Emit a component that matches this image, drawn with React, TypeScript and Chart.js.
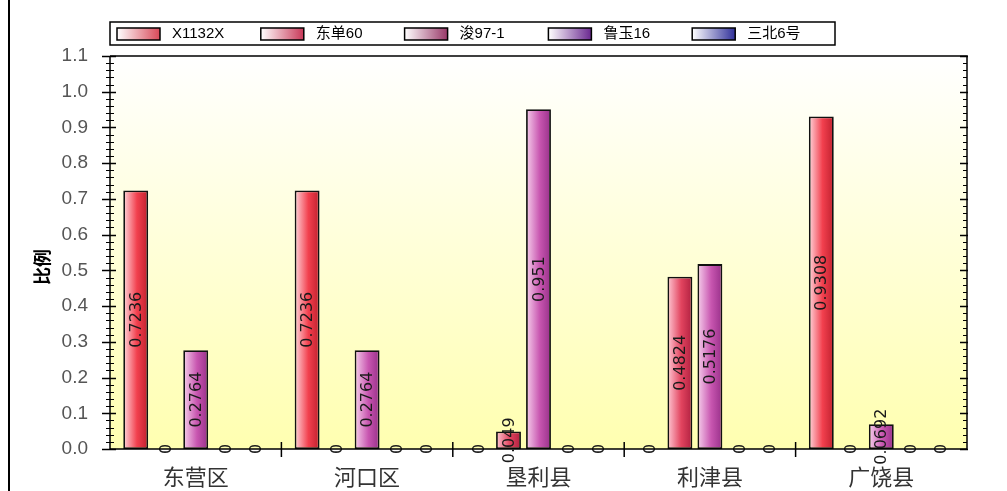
import { useEffect, useRef } from 'react';
import { Chart, registerables } from 'chart.js';

Chart.register(...registerables);

// ---- data ----
const categories = ['东营区', '河口区', '垦利县', '利津县', '广饶县'];
const seriesNames = ['X1132X', '东单60', '浚97-1', '鲁玉16', '三北6号'];
const x1132x = [0.7236, 0.7236, 0, 0, 0.9308];
const dongdan60 = [0, 0, 0.049, 0.4824, 0];
const jun971 = [0.2764, 0.2764, 0.951, 0.5176, 0.0692];
const luyu16 = [0, 0, 0, 0, 0];
const sanbei6 = [0, 0, 0, 0, 0];
const yMin = 0;
const yMax = 1.1;
const yStep = 0.1;
const yMinorStep = 0.02;
const yTitle = '比例';

const seriesValues = [x1132x, dongdan60, jun971, luyu16, sanbei6];

// ---- styles ----
const barColors = [
  ['#ffd6dc', '#f2404e', '#c0202e'],
  ['#ffc8d4', '#e2445f', '#b02040'],
  ['#f6d0ec', '#c856b0', '#98308a'],
  ['#e6d0f2', '#8a44b0', '#602080'],
  ['#d8d8f6', '#4848b8', '#28288a'],
];
const legendColors = ['#d84858', '#c83858', '#983868', '#6a2890', '#30309a'];

const FRAME = { left: 110, right: 967, top: 56, bottom: 449 };

const decorPlugin = {
  id: 'decor',
  beforeDraw(chart: any) {
    const { ctx, chartArea } = chart;
    ctx.save();
    const g = ctx.createLinearGradient(0, chartArea.top, 0, chartArea.bottom);
    g.addColorStop(0, '#ffffff');
    g.addColorStop(1, '#ffffb0');
    ctx.fillStyle = g;
    ctx.fillRect(chartArea.left, chartArea.top, chartArea.right - chartArea.left, chartArea.bottom - chartArea.top);
    ctx.restore();
  },
  beforeDatasetsDraw(chart: any) {
    const { ctx } = chart;
    chart.data.datasets.forEach((ds: any, di: number) => {
      const meta = chart.getDatasetMeta(di);
      meta.data.forEach((el: any) => {
        const { x, width } = el.getProps(['x', 'width'], true);
        const g = ctx.createLinearGradient(x - width / 2, 0, x + width / 2, 0);
        const c = barColors[di];
        g.addColorStop(0, c[0]);
        g.addColorStop(0.55, c[1]);
        g.addColorStop(1, c[2]);
        el.options.backgroundColor = g;
      });
    });
  },
  afterDatasetsDraw(chart: any) {
    const { ctx } = chart;
    ctx.save();
    ctx.font = '16px "DejaVu Sans"';
    ctx.fillStyle = '#1a1a1a';
    ctx.textAlign = 'center';
    ctx.textBaseline = 'middle';
    chart.data.datasets.forEach((ds: any, di: number) => {
      const meta = chart.getDatasetMeta(di);
      meta.data.forEach((el: any, i: number) => {
        const { x, y, base } = el.getProps(['x', 'y', 'base'], true);
        const cy = (y + base) / 2;
        ctx.save();
        ctx.translate(x, cy);
        ctx.rotate(-Math.PI / 2);
        ctx.fillText(String(ds.data[i]), 0, 1);
        ctx.restore();
      });
    });
    ctx.restore();
  },
  afterDraw(chart: any) {
    const { ctx, chartArea } = chart;
    const ys = chart.scales.y;
    const xs = chart.scales.x;
    const { left, right, top, bottom } = chartArea;
    ctx.save();
    ctx.strokeStyle = '#000';
    // frame
    ctx.lineWidth = 1.5;
    ctx.beginPath();
    ctx.moveTo(left, top);
    ctx.lineTo(right, top);
    ctx.lineTo(right, bottom);
    ctx.moveTo(left, top);
    ctx.lineTo(left, bottom);
    ctx.lineTo(right, bottom);
    ctx.stroke();
    // y ticks
    const n = Math.round((yMax - yMin) / yMinorStep);
    for (let k = 0; k <= n; k++) {
      const v = yMin + k * yMinorStep;
      const py = Math.round(ys.getPixelForValue(v)) + 0.5;
      const major = k % Math.round(yStep / yMinorStep) === 0;
      ctx.lineWidth = major ? 1.5 : 1;
      ctx.beginPath();
      if (major) {
        ctx.moveTo(left - 8, py);
        ctx.lineTo(left + 6, py);
        ctx.moveTo(right - 7, py);
        ctx.lineTo(right + 1, py);
      } else {
        ctx.moveTo(left - 4, py);
        ctx.lineTo(left + 4, py);
        ctx.moveTo(right - 4, py);
        ctx.lineTo(right, py);
      }
      ctx.stroke();
    }
    // x separators
    ctx.lineWidth = 1.5;
    for (let i = 1; i < categories.length; i++) {
      const px = (xs.getPixelForValue(i - 1) + xs.getPixelForValue(i)) / 2;
      ctx.beginPath();
      ctx.moveTo(px, bottom - 7);
      ctx.lineTo(px, bottom + 8);
      ctx.stroke();
    }
    // left page line
    ctx.lineWidth = 2;
    ctx.beginPath();
    ctx.moveTo(9, 0);
    ctx.lineTo(9, 491);
    ctx.stroke();
    // y title
    ctx.save();
    ctx.translate(42, 267);
    ctx.rotate(-Math.PI / 2);
    ctx.font = 'bold 18px "Noto Sans CJK SC"';
    ctx.fillStyle = '#000';
    ctx.textAlign = 'center';
    ctx.textBaseline = 'middle';
    ctx.fillText(yTitle, 0, 0);
    ctx.restore();
    // legend
    const lx = 110, ly = 22, lw = 725, lh = 23;
    ctx.fillStyle = '#fff';
    ctx.fillRect(lx, ly, lw, lh);
    ctx.lineWidth = 1.5;
    ctx.strokeRect(lx, ly, lw, lh);
    seriesNames.forEach((name, i) => {
      const sx = 117 + i * 143.8;
      const sy = 28;
      const g = ctx.createLinearGradient(sx, 0, sx + 43, 0);
      g.addColorStop(0, '#ffffff');
      g.addColorStop(1, legendColors[i]);
      ctx.fillStyle = g;
      ctx.fillRect(sx, sy, 43, 12);
      ctx.strokeStyle = '#000';
      ctx.lineWidth = 1.5;
      ctx.strokeRect(sx, sy, 43, 12);
      ctx.fillStyle = '#000';
      ctx.font = '15px "Liberation Sans", "Noto Sans CJK SC"';
      ctx.textAlign = 'left';
      ctx.textBaseline = 'middle';
      ctx.fillText(name, sx + 55, sy + 6);
    });
    ctx.restore();
  },
};

export default function App() {
  const ref = useRef<HTMLCanvasElement>(null);
  useEffect(() => {
    document.body.style.margin = '0';
    const canvas = ref.current!;
    const chart = new Chart(canvas, {
      type: 'bar',
      data: {
        labels: categories,
        datasets: seriesNames.map((name, i) => ({
          label: name,
          data: seriesValues[i],
          backgroundColor: () => barColors[i][1],
          borderColor: '#111',
          borderWidth: (c: any) => (c.raw === 0 ? 0 : 1.8),
          borderSkipped: false,
          categoryPercentage: 0.875,
          barPercentage: 0.83,
        })),
      },
      options: {
        animation: false,
        responsive: false,
        devicePixelRatio: 1,
        layout: { padding: { left: 8, right: 1007 - FRAME.right, top: FRAME.top, bottom: 0 } },
        plugins: { legend: { display: false }, tooltip: { enabled: false } },
        scales: {
          x: {
            grid: { display: false },
            border: { display: false },
            ticks: {
              padding: 6,
              color: '#333',
              font: { family: '"Noto Sans CJK SC"', size: 22 },
            },
            afterFit: (s: any) => {
              s.height = 491 - FRAME.bottom;
            },
          },
          y: {
            min: yMin,
            max: yMax,
            grid: { display: false },
            border: { display: false },
            ticks: {
              stepSize: yStep,
              padding: 14,
              color: '#555',
              font: { family: '"Liberation Sans", Arial', size: 19 },
              callback: (v: any) => Number(v).toFixed(1),
            },
            afterFit: (s: any) => {
              s.width = FRAME.left - 8;
            },
          },
        },
      },
      plugins: [decorPlugin],
    });
    return () => chart.destroy();
  }, []);
  return <canvas ref={ref} width={1007} height={491} style={{ display: 'block' }} />;
}
